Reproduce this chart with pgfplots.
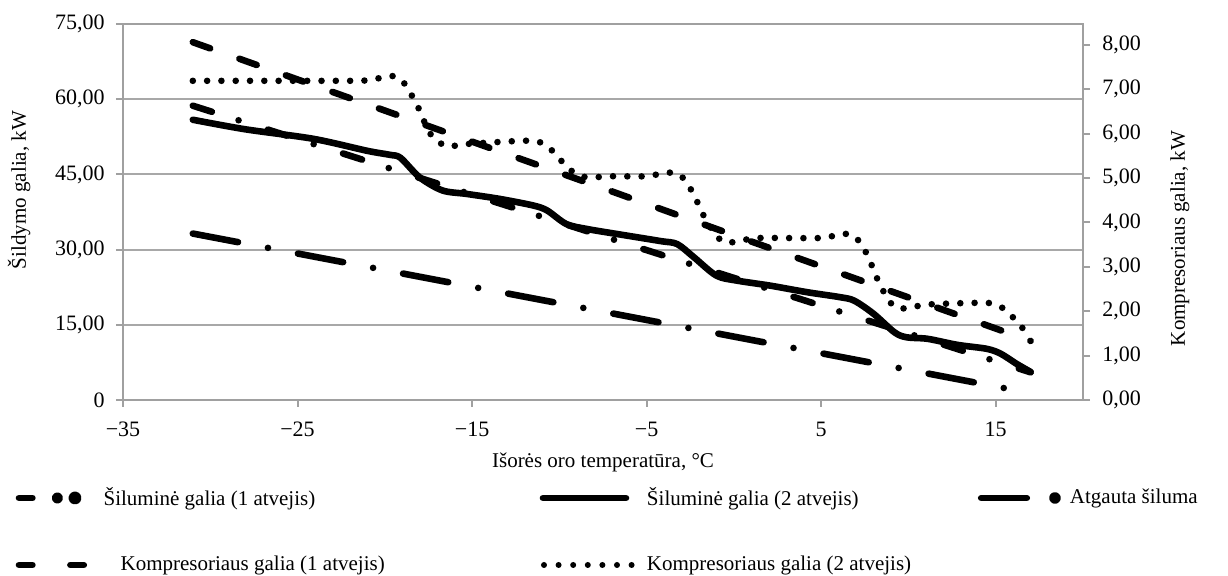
\documentclass[border=0pt]{standalone}
\usepackage{pgfplots}
\pgfplotsset{compat=1.18}
\usepackage{fontspec}
\setmainfont{Liberation Serif}
\definecolor{axisgray}{HTML}{A0A0A0}
\definecolor{gridgray}{HTML}{A8A8A8}
\newcommand{\lblfont}{\fontsize{10.5}{12}\selectfont}
\newcommand{\tckfont}{\fontsize{11}{12}\selectfont}
\tikzset{thk/.style={line width=3.3pt, line cap=round, line join=round, black}}
\begin{document}
\begin{tikzpicture}
\useasboundingbox (-61.5pt,-88pt) rectangle (552.5pt,200pt);
% left axis: heat outputs
\begin{axis}[
  at={(0pt,0pt)}, anchor=south west,
  scale only axis, width=480pt, height=188pt,
  xmin=-35, xmax=20, ymin=0, ymax=75,
  xtick={-35,-25,-15,-5,5,15},
  xticklabels={−35,−25,−15,−5,5,15},
  ytick={0,15,30,45,60,75},
  yticklabels={0,{15,00},{30,00},{45,00},{60,00},{75,00}},
  xtick pos=bottom, ytick pos=left,
  tick align=outside, major tick length=3.5pt,
  tick style={axisgray, line width=1pt},
  axis line style={axisgray, line width=1pt},
  ymajorgrids, major grid style={gridgray, line width=1pt},
  every tick label/.append style={font=\tckfont, inner sep=0pt},
  xticklabel style={yshift=-7.3pt},
  yticklabel style={xshift=-5.5pt},
  xlabel={Išorės oro temperatūra, °C},
  ylabel={Šildymo galia, kW},
  label style={font=\lblfont},
  xlabel style={at={(axis description cs:0.5,-0.1649)}, anchor=center},
  ylabel style={at={(axis description cs:-0.1083,0.5585)}, anchor=center},
  legend columns=3,
  legend cell align=left,
  legend style={draw=none, fill=none, inner sep=0pt, outer sep=0pt,
    at={(axis description cs:-0.128125,-0.218085)}, anchor=north west,
    nodes={inner sep=0pt}, column sep=0pt, row sep=17.5pt, font=\lblfont},
]
\addplot[thk, dash pattern=on 10pt off 14pt on 0pt off 15.4pt,
  legend image code/.code={
    \path[draw=none, fill=none] (0pt,-8pt) rectangle (51.8pt,8pt);
    \draw[solid, line width=3.3pt, line cap=round] (9.5pt,0pt) -- (16.2pt,0pt);
    \fill (28.7pt,0pt) circle (1.15pt);
    \fill (37.5pt,0pt) circle (1.6pt);}]
  coordinates {(-31,58.7) (-23,49.84) (-15,40.97) (-7,32.11) (1,23.24) (9,14.38) (17,5.52)};
\addlegendentry{\makebox[213.2pt][l]{Šiluminė galia (1 atvejis)}}

\addplot[thk, smooth,
  legend image code/.code={
    \path[draw=none, fill=none] (0pt,-8pt) rectangle (58.5pt,8pt);
    \draw[solid, line width=3.3pt, line cap=round] (6.5pt,0pt) -- (48pt,0pt);}]
  coordinates {(-31,55.9) (-28,54.0) (-24.1,52.1) (-21,49.7) (-19.7,48.9) (-19.1,48.3)
    (-18,44.4) (-16.7,41.8) (-15.3,41.1) (-13.4,40.1) (-11.5,38.8) (-10.7,37.8)
    (-9.6,35.1) (-8.4,34.1) (-6.5,33.0) (-4.2,31.7) (-3.25,31.1) (-2.3,28.5)
    (-1.0,24.8) (0.2,23.8) (2.1,22.8) (4.2,21.5) (6.1,20.5) (6.9,19.8) (8.0,17.2)
    (9.2,13.5) (9.9,12.5) (11.1,12.2) (12.8,11.0) (14.5,10.2) (15.3,9.2) (16.2,7.2)
    (17.0,5.6)};
\addlegendentry{\makebox[161.5pt][l]{Šiluminė galia (2 atvejis)}}

\addplot[thk, dash pattern=on 23pt off 15.25pt on 0pt off 15.25pt,
  legend image code/.code={
    \path[draw=none, fill=none] (0pt,-8pt) rectangle (50pt,8pt);
    \draw[solid, line width=3.3pt, line cap=round] (5.6pt,0pt) -- (28.4pt,0pt);
    \fill (42.5pt,0pt) circle (1.3pt);}]
  coordinates {(-31,33.2) (-23,27.9) (-15,22.59) (-7,17.29) (1,11.98) (9,6.68) (16.5,1.70)};
\addlegendentry{Atgauta šiluma}

\addlegendimage{legend image code/.code={
    \path[draw=none, fill=none] (0pt,-8pt) rectangle (51.8pt,8pt);
    \draw[solid, line width=3.3pt, line cap=round] (9.5pt,0pt) -- (16.2pt,0pt);
    \draw[solid, line width=3.3pt, line cap=round] (35.2pt,0pt) -- (41.9pt,0pt);}}
\addlegendentry{\makebox[213.2pt][l]{\hspace*{8.5pt}Kompresoriaus galia (1 atvejis)}}
\addlegendimage{legend image code/.code={
    \path[draw=none, fill=none] (0pt,-8pt) rectangle (58.5pt,8pt);
    \draw[line width=3pt, line cap=round, dash pattern=on 0pt off 7.3pt] (7pt,0pt) -- (50.8pt,0pt);}}
\addlegendentry{\makebox[161.5pt][l]{Kompresoriaus galia (2 atvejis)}}
\end{axis}

% right axis: compressor power
\begin{axis}[
  at={(0pt,0pt)}, anchor=south west,
  scale only axis, width=480pt, height=188pt,
  xmin=-35, xmax=20, ymin=0, ymax=8.47,
  axis x line=none, axis y line*=right,
  ytick={0,1,2,3,4,5,6,7,8},
  yticklabels={{0,00},{1,00},{2,00},{3,00},{4,00},{5,00},{6,00},{7,00},{8,00}},
  tick align=outside, major tick length=3.5pt,
  tick style={axisgray, line width=1pt},
  axis line style={axisgray, line width=1pt},
  every tick label/.append style={font=\tckfont, inner sep=0pt},
  yticklabel style={xshift=6pt},
  ylabel={Kompresoriaus galia, kW},
  label style={font=\lblfont},
  ylabel style={at={(axis description cs:1.101,0.4295)}, anchor=center},
]
\addplot[thk, dash pattern=on 9.2pt off 15.5pt]
  coordinates {(-31,8.06) (-23,6.94) (-15,5.82) (-7,4.70) (1,3.57) (9,2.45) (17,1.33)};
\addplot[thk, smooth, dash pattern=on 0pt off 7.15pt]
  coordinates {(-31,7.19) (-29,7.19) (-27,7.19) (-25,7.19) (-23,7.19) (-21,7.20)
    (-19.6,7.30) (-18.9,7.14) (-18.1,6.60) (-17.4,6.00) (-16.5,5.72) (-15.5,5.76)
    (-14,5.80) (-12,5.84) (-11.2,5.82) (-10.5,5.65) (-9.4,5.19) (-8.5,5.02) (-7,5.04)
    (-5,5.04) (-3.9,5.12) (-3.1,5.07) (-2.4,4.70) (-1.5,3.98) (-0.6,3.56) (0.5,3.60)
    (1.5,3.65) (5,3.65) (6.1,3.74) (6.9,3.69) (7.6,3.30) (8.4,2.57) (9.2,2.10)
    (10.2,2.08) (11,2.15) (14.2,2.19) (15,2.15) (15.7,1.98) (16.8,1.50)};
\end{axis}
\end{tikzpicture}
\end{document}
